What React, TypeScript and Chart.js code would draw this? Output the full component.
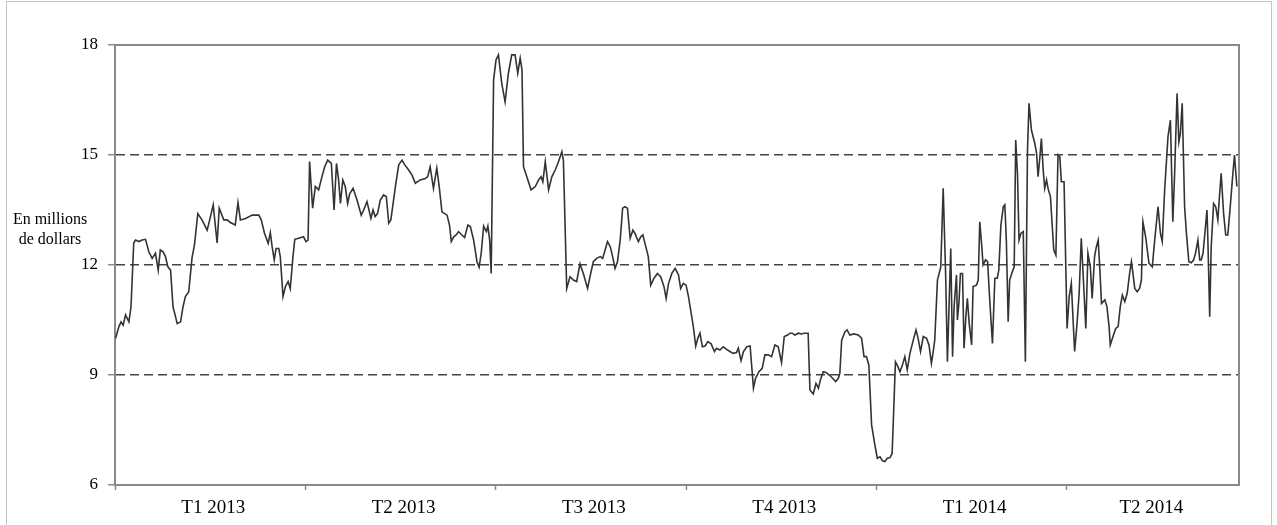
import React, { useEffect, useRef } from "react";
import { Chart, registerables } from "chart.js";

Chart.register(...registerables);

const quarterLabels = ["T1 2013", "T2 2013", "T3 2013", "T4 2013", "T1 2014", "T2 2014"];
const quarterStarts = [0, 63, 126, 189, 252, 315];
const labelPositions = [32.5, 95.5, 158.5, 221.5, 284.5, 343];
const yTicks = [6, 9, 12, 15, 18];
const dashedLevels = [9, 12, 15];
const yTitle = ["En millions", "de dollars"];
const yTitleLevel = 12.95;

// trading-day position of each vertex (63 trading days per quarter)
const tradingDay = [
  0.2, 1.3, 2.0, 2.7, 3.5, 4.0, 4.6, 5.3, 6.2, 6.8, 7.9, 9.0, 10.1, 11.2, 12.3, 13.4, 14.3, 15.0, 15.9, 16.7,
  17.5, 18.4, 19.2, 20.6, 21.7, 22.5, 23.3, 24.4, 25.5, 26.3, 27.4, 28.8, 30.5, 31.6, 32.5, 33.8, 34.5, 36.0, 37.1, 38.2,
  39.8, 40.7, 41.5, 43.2, 45.4, 47.6, 48.4, 49.5, 50.7, 51.4, 52.0, 52.7, 53.3, 54.2, 54.7, 55.6, 56.4, 57.3, 58.0, 58.9,
  59.5, 60.8, 62.4, 63.2, 63.9, 64.4, 65.4, 66.3, 67.4, 68.5, 69.4, 70.4, 71.6, 72.5, 73.3, 74.0, 74.6, 75.4, 76.2,
  77.0, 77.7, 78.8, 80.1, 81.5, 82.3, 83.4, 84.7, 85.4, 86.1, 86.9, 87.8, 88.9, 89.8, 90.6, 91.3, 92.8, 93.9, 95.0, 95.9,
  97.2, 98.3, 99.4, 101.0, 102.7, 103.5, 104.3, 105.4, 106.5, 107.3, 108.2, 109.9, 110.7, 111.3, 112.1, 112.9, 113.7, 114.3,
  115.7, 116.8, 117.6, 118.7, 119.8, 120.5, 121.2, 122.0, 122.9, 123.4, 124.0, 124.5, 125.3, 126.1, 126.9, 128.0, 129.1, 130.2,
  131.3, 132.4, 133.3, 134.1, 134.7, 135.2, 136.3, 137.7, 139.1, 140.2, 141.0, 141.6, 142.4, 143.5, 144.6, 145.7, 146.8, 147.9,
  148.4, 149.5, 150.6, 151.7,
  152.8, 153.9, 155.0, 156.4, 157.2, 158.3, 159.4, 160.6, 161.4, 162.2, 163.0, 163.9, 164.7, 165.5, 166.3, 167.2, 168.0, 168.8,
  169.6, 170.5, 171.4, 172.1, 173.2, 174.0, 174.7, 175.4, 176.5, 177.3, 178.4, 179.5, 180.6, 181.7, 182.4, 183.2, 184.3, 185.4,
  186.5, 187.2, 188.1, 189.0, 189.8,
  191.4, 192.2, 192.9, 193.6, 194.4, 195.3, 196.2, 197.3, 198.4, 199.1, 200.2, 201.3, 202.4, 203.5, 204.6, 205.7, 206.3, 207.2,
  208.0, 209.1, 210.2, 211.3, 212.0, 213.1, 214.2, 215.1, 216.2, 217.3, 218.4, 219.5, 220.6, 221.5, 222.6, 223.4, 224.2, 225.0,
  226.2, 227.2, 228.1,
  229.4, 230.0, 231.1, 232.0, 232.8, 233.5, 234.4, 235.3, 236.4, 237.5, 238.5, 239.4, 239.9, 240.5, 241.6, 242.3, 243.2, 244.5,
  246.0, 247.1, 247.9, 248.7, 249.5, 250.4, 251.5, 252.3, 253.2, 254.0, 254.8, 255.6, 256.5, 257.2, 258.3, 259.0, 259.8, 260.6,
  261.4, 262.2, 263.1, 264.2, 265.1, 265.8,
  266.6, 267.5, 268.6, 269.4, 270.2, 270.8, 271.3, 272.2, 273.3, 274.1, 274.9, 275.5, 276.6, 277.2, 277.7, 278.5, 278.8, 279.3,
  279.8, 280.5, 281.0, 281.6, 282.1, 282.7, 283.5, 284.0, 285.1, 285.7, 286.2, 286.8, 287.3, 288.1, 288.8, 289.5, 290.4, 291.2,
  292.0, 292.5, 293.2, 294.0, 294.5, 295.0, 295.6, 296.1, 297.0, 297.6, 298.1, 298.7, 299.2, 299.8, 300.6, 301.3, 302.0, 302.5,
  303.3,
  304.4, 305.0, 305.5, 306.1, 306.6, 307.2, 307.7, 308.3, 308.8, 309.6, 310.2, 310.7, 311.4, 312.1, 312.7, 313.2, 314.1, 315.1,
  315.8, 316.5, 317.6, 318.4, 319.1, 319.8, 320.4, 321.3, 322.0, 322.8, 323.4, 324.2, 324.8, 325.4, 325.9, 326.5, 327.6, 328.3,
  329.0, 329.4, 330.3, 331.2, 332.0, 332.7, 333.4, 334.2, 335.0, 335.8, 336.4, 336.9, 337.5, 338.3, 339.1, 339.7, 340.2, 341.1,
  342.2, 343.3, 344.1, 345.2, 346.0, 346.6, 347.4, 348.5, 349.3, 350.1, 350.7, 351.5, 352.1, 352.6, 353.2, 354.0, 354.6, 355.4,
  356.2, 357.0, 357.6, 358.4, 359.0, 359.5, 360.1, 360.7, 361.4, 361.7, 362.3, 362.8, 363.6, 364.3, 365.0, 365.6, 366.1, 366.9,
  367.6, 368.3, 369.1, 369.8, 370.5, 371.3,
];

// value in millions of dollars at each vertex
const revenue = [
  10.0, 10.32, 10.45, 10.36, 10.64, 10.55, 10.45, 10.86, 12.6, 12.68, 12.64, 12.68, 12.7, 12.36, 12.18, 12.32, 11.86, 12.41, 12.36, 12.23,
  11.95, 11.86, 10.86, 10.4, 10.45, 10.86, 11.14, 11.27, 12.2, 12.55, 13.4, 13.23, 12.95, 13.32, 13.64, 12.6, 13.55, 13.23, 13.23, 13.16,
  13.09, 13.7, 13.23, 13.27, 13.36, 13.36, 13.23, 12.86, 12.59, 12.88, 12.5, 12.14, 12.45, 12.45, 12.23, 11.14, 11.41, 11.55, 11.36, 12.23,
  12.7, 12.73, 12.77, 12.64, 12.68, 14.82, 13.55, 14.14, 14.05, 14.41, 14.68, 14.86, 14.77, 13.5, 14.77, 14.32, 13.68, 14.32, 14.14,
  13.68, 13.95, 14.09, 13.77, 13.36, 13.5, 13.73, 13.27, 13.5, 13.32, 13.41, 13.77, 13.91, 13.86, 13.14, 13.23, 14.14, 14.73, 14.86, 14.73,
  14.59, 14.45, 14.23, 14.32, 14.36, 14.41, 14.68, 14.09, 14.64, 14.14, 13.45, 13.36, 13.09, 12.64, 12.77, 12.82, 12.91, 12.86,
  12.75, 13.09, 13.05, 12.68, 12.09, 11.94, 12.32, 13.06, 12.91, 13.06, 12.68, 11.77, 17.05, 17.59, 17.73, 16.95, 16.45, 17.23,
  17.73, 17.73, 17.23, 17.64, 17.32, 14.68, 14.41, 14.05, 14.14, 14.32, 14.41, 14.27, 14.82, 14.05, 14.41, 14.59, 14.82, 15.09,
  14.86, 11.36, 11.68, 11.59,
  11.55, 12.03, 11.77, 11.36, 11.68, 12.09, 12.18, 12.23, 12.18, 12.41, 12.64, 12.5, 12.23, 11.91, 12.09, 12.68, 13.55, 13.59,
  13.55, 12.73, 12.95, 12.86, 12.64, 12.77, 12.82, 12.59, 12.23, 11.45, 11.64, 11.77, 11.68, 11.41, 11.09, 11.5, 11.77, 11.91,
  11.73, 11.36, 11.5, 11.45, 11.14,
  10.32, 9.79, 10.0, 10.14, 9.77, 9.79, 9.91, 9.85, 9.64, 9.73, 9.68, 9.77, 9.7, 9.64, 9.59, 9.61, 9.73, 9.39,
  9.64, 9.77, 9.79, 8.64, 8.91, 9.09, 9.18, 9.55, 9.55, 9.5, 9.82, 9.77, 9.34, 10.05, 10.09, 10.14, 10.14, 10.09,
  10.14, 10.12, 10.14,
  10.14, 8.59, 8.48, 8.77, 8.64, 8.88, 9.09, 9.07, 9.0, 8.91, 8.82, 8.91, 9.05, 9.95, 10.18, 10.23, 10.09, 10.12,
  10.09, 10.0, 9.5, 9.5, 9.27, 7.64, 7.09, 6.73, 6.77, 6.66, 6.64, 6.73, 6.75, 6.86, 9.36, 9.25, 9.09, 9.27,
  9.5, 9.14, 9.59, 9.95, 10.23, 10.0,
  9.64, 10.05, 10.0, 9.82, 9.32, 9.64, 9.95, 11.59, 11.95, 14.09, 11.77, 9.36, 12.45, 9.5, 10.86, 11.73, 10.5, 10.95,
  11.77, 11.77, 9.73, 10.59, 11.09, 10.41, 9.82, 11.41, 11.45, 11.59, 13.18, 12.59, 12.0, 12.14, 12.09, 11.05, 9.86, 11.64,
  11.64, 11.86, 13.09, 13.59, 13.64, 12.68, 10.45, 11.59, 11.82, 11.95, 15.41, 14.45, 12.68, 12.86, 12.91, 9.36, 15.14, 16.41,
  15.68,
  15.32, 15.05, 14.41, 14.95, 15.45, 14.59, 14.09, 14.32, 14.09, 13.86, 13.05, 12.41, 12.27, 15.0, 14.95, 14.27, 14.27, 10.27,
  11.14, 11.5, 9.64, 10.41, 11.23, 12.73, 11.77, 10.27, 12.32, 11.95, 11.09, 12.23, 12.5, 12.68, 11.95, 10.95, 11.05, 10.86,
  10.32, 9.82, 10.05, 10.27, 10.32, 10.86, 11.18, 11.0, 11.23, 11.77, 12.09, 11.77, 11.36, 11.27, 11.36, 11.59, 13.18, 12.77,
  12.05, 11.95, 12.68, 13.59, 12.86, 12.64, 14.05, 15.5, 15.95, 13.18, 14.5, 16.68, 15.36, 15.59, 16.41, 13.59, 12.86, 12.09,
  12.06, 12.14, 12.32, 12.68, 12.14, 12.14, 12.32, 12.86, 13.5, 12.68, 10.59, 12.5, 13.68, 13.59, 13.23, 13.95, 14.5, 13.41,
  12.82, 12.82, 13.59, 14.32, 15.0, 14.14,
];

const SERIF = "'Liberation Serif', 'Times New Roman', serif";
const AXIS_GRAY = "#8a8a8a";

export default function App() {
  const ref = useRef<HTMLCanvasElement>(null);

  useEffect(() => {
    document.body.style.margin = "0";
    const canvas = ref.current;
    if (!canvas) return;
    const points = tradingDay.map((d, i) => ({ x: d, y: revenue[i] }));

    const framePlugin = {
      id: "frame",
      afterDraw(chart: any) {
        const { ctx, chartArea: a } = chart;
        ctx.save();
        ctx.strokeStyle = AXIS_GRAY;
        ctx.lineWidth = 2;
        ctx.beginPath();
        ctx.moveTo(a.left, a.top);
        ctx.lineTo(a.right, a.top);
        ctx.lineTo(a.right, a.bottom);
        ctx.stroke();
        ctx.fillStyle = "#000";
        ctx.font = `16px ${SERIF}`;
        ctx.textAlign = "center";
        ctx.textBaseline = "middle";
        const yc = chart.scales.y.getPixelForValue(yTitleLevel);
        ctx.fillText(yTitle[0], 50, yc - 10);
        ctx.fillText(yTitle[1], 50, yc + 10);
        ctx.restore();
      },
    };

    const chart = new Chart(canvas, {
      type: "line",
      data: {
        datasets: [
          {
            data: points,
            borderColor: "#333333",
            borderWidth: 1.6,
            pointRadius: 0,
            tension: 0,
            fill: false,
          },
        ],
      },
      options: {
        animation: false,
        responsive: false,
        maintainAspectRatio: false,
        layout: { padding: { top: 45, right: 38, left: 0, bottom: 0 } },
        plugins: { legend: { display: false }, tooltip: { enabled: false } },
        scales: {
          x: {
            type: "linear",
            min: 0,
            max: 372,
            afterBuildTicks: (s: any) => {
              const vals = [...quarterStarts, ...labelPositions].sort((a, b) => a - b);
              s.ticks = vals.map((v) => ({ value: v }));
            },
            afterFit: (s: any) => {
              s.height = 40;
            },
            ticks: {
              autoSkip: false,
              maxRotation: 0,
              minRotation: 0,
              padding: 7,
              color: "#000",
              font: { family: SERIF, size: 19 },
              callback: (v: any) => {
                const i = labelPositions.indexOf(Number(v));
                return i >= 0 ? quarterLabels[i] : "";
              },
            },
            grid: {
              drawOnChartArea: false,
              tickLength: 5,
              tickWidth: 1.5,
              tickColor: (ctx: any) =>
                ctx.tick && quarterStarts.includes(ctx.tick.value) ? AXIS_GRAY : "rgba(0,0,0,0)",
            },
            border: { color: AXIS_GRAY, width: 2 },
          },
          y: {
            min: 6,
            max: 18,
            afterBuildTicks: (s: any) => {
              s.ticks = yTicks.map((v) => ({ value: v }));
            },
            afterFit: (s: any) => {
              s.width = 115;
            },
            ticks: {
              padding: 10,
              color: "#000",
              font: { family: SERIF, size: 17 },
            },
            grid: {
              lineWidth: 1.4,
              color: (ctx: any) =>
                ctx.tick && dashedLevels.includes(ctx.tick.value) ? "#444444" : "rgba(0,0,0,0)",
              tickLength: 7,
              tickWidth: 1.5,
              tickColor: AXIS_GRAY,
            },
            border: { color: AXIS_GRAY, width: 2, dash: [9, 5] },
          },
        },
      },
      plugins: [framePlugin],
    } as any);

    return () => chart.destroy();
  }, []);

  return (
    <div style={{ position: "relative", width: 1277, height: 525, overflow: "hidden", background: "#fff" }}>
      <canvas
        ref={ref}
        width={1277}
        height={525}
        style={{ display: "block", width: "1277px", height: "525px" }}
      />
      <div
        style={{
          position: "absolute",
          left: 6,
          top: 1,
          width: 1264,
          height: 560,
          border: "1px solid #c4c4c4",
          pointerEvents: "none",
        }}
      />
    </div>
  );
}
